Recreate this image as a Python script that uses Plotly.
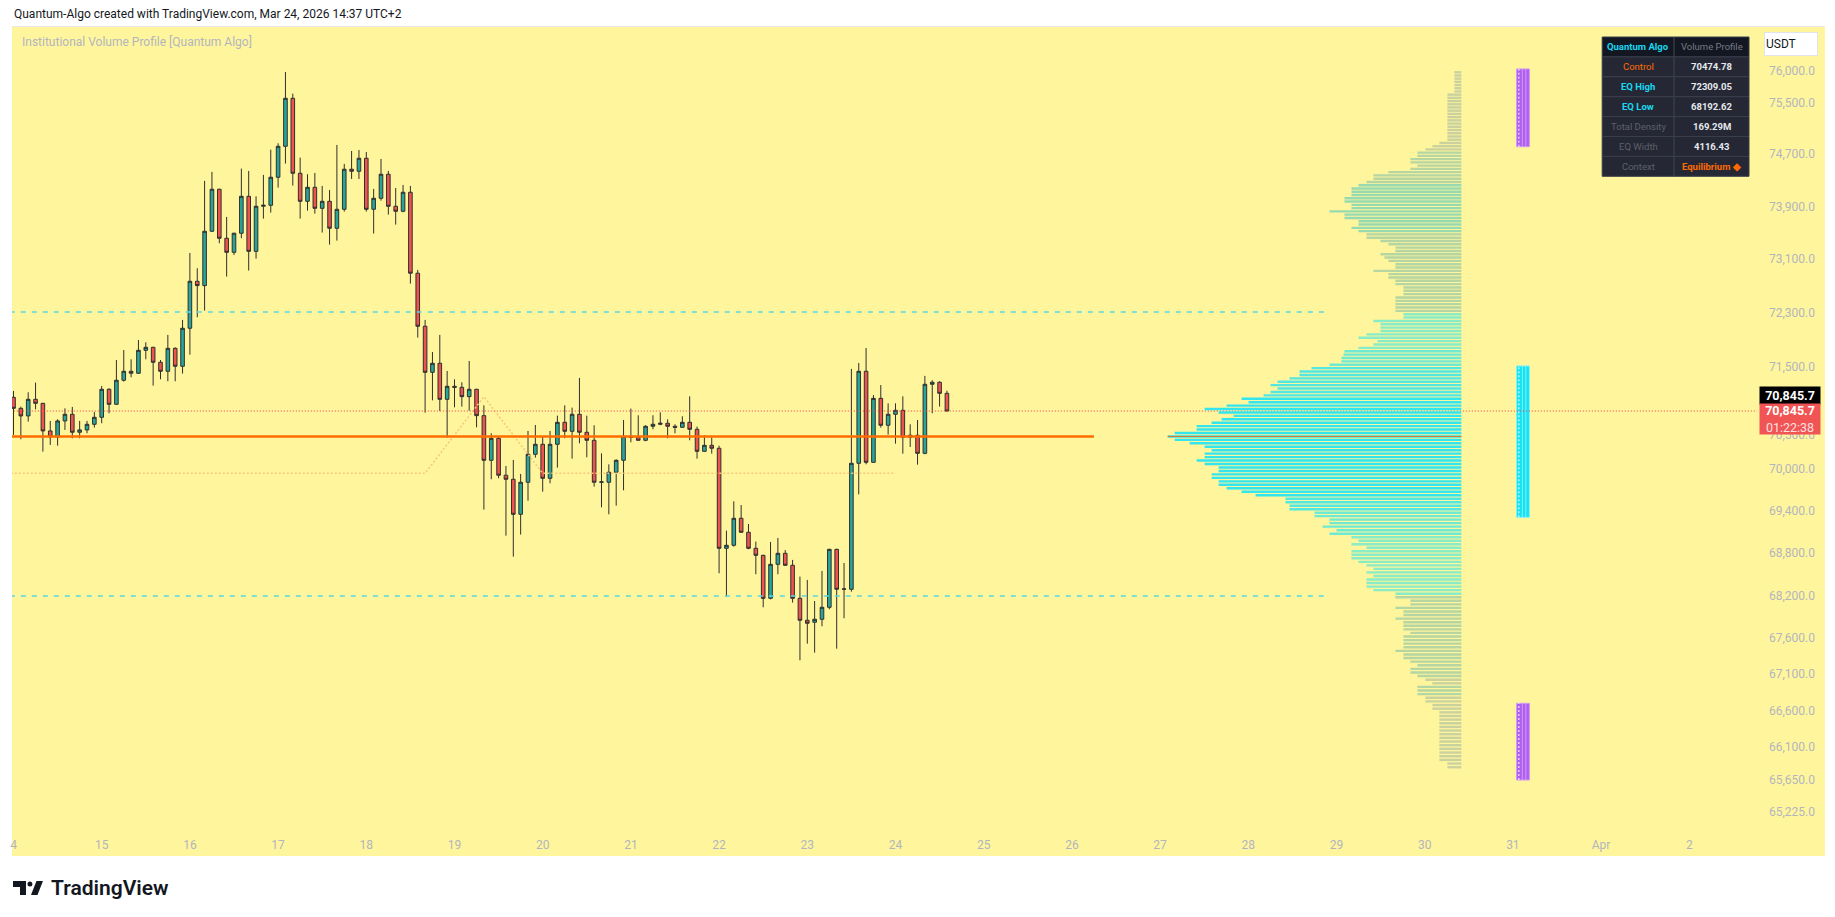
import math
import pandas as pd
import plotly.graph_objects as go

# ---------------- data ----------------
START = "2026-03-14 00:00"          # first 2h candle
OPEN = [71046, 70885, 70774, 71017, 70958, 70555, 70468, 70701, 70798, 70536,
        70570, 70652, 70754, 71164, 70944, 71297, 71429, 71400, 71739, 71783,
        71562, 71429, 71768, 71503, 72066, 72768, 72703, 73523, 74163, 73417,
        73204, 73493, 74055, 73219, 73903, 73918, 74347, 74823, 75568, 74408,
        73979, 74193, 73872, 73979, 73569, 73857, 74470, 74439, 74639, 73857,
        74025, 74393, 73903, 73827, 74117, 72889, 72096, 71414, 71547, 71017,
        71208, 71193, 71056, 71164, 70778, 70129, 70448, 69913, 69855, 69352,
        69812, 70216, 70361, 69869, 70361, 70681, 70550, 70798, 70536, 70419,
        69812, 69812, 69956, 70129, 70477, 70463, 70419, 70623, 70652, 70667,
        70623, 70608, 70681, 70579, 70259, 70346, 70303, 68867, 68910, 69295,
        69095, 68867, 68767, 68160, 68640, 68796, 68626, 68160, 67852, 67824,
        67866, 68034, 68852, 68287, 68287, 70086, 71429, 70100, 71031, 70638,
        70798, 70856, 70463, 70492, 70230, 71238, 71267, 71105]
HIGH = [71140, 70910, 71120, 71262, 70965, 70701, 70725, 70885, 70905, 70701,
        70701, 70832, 71213, 71179, 71596, 71743, 71606, 71892, 71858, 71790,
        71596, 71967, 71783, 72190, 73194, 72964, 74291, 74429, 74170, 73741,
        73500, 74480, 74444, 74055, 74383, 74771, 74870, 75980, 75641, 74649,
        74393, 74413, 74214, 74152, 74844, 74552, 74751, 74766, 74736, 74168,
        74628, 74444, 74183, 74229, 74214, 72939, 72190, 71714, 71967, 71434,
        71311, 71267, 71581, 71170, 70929, 70521, 70473, 70047, 70134, 69932,
        70555, 70642, 70473, 70555, 70778, 70929, 70895, 71331, 70778, 70638,
        70230, 70071, 70143, 70715, 70881, 70783, 70638, 70783, 70827, 70725,
        70652, 70769, 71061, 70618, 70492, 70463, 70341, 69119, 69538, 69485,
        69214, 68962, 68775, 68957, 69014, 68843, 68702, 68466, 68419, 68122,
        68546, 68860, 68860, 68659, 71464, 71552, 71773, 71080, 71226, 70958,
        70958, 71061, 70652, 70715, 71361, 71296, 71282, 71144]
LOW = [70497, 70434, 70691, 70871, 70254, 70351, 70341, 70570, 70448, 70448,
       70521, 70604, 70667, 70812, 70940, 71277, 71341, 71390, 71606, 71218,
       71311, 71282, 71282, 71395, 71675, 72230, 72329, 73515, 73341, 72839,
       73164, 73417, 72929, 73109, 73715, 73807, 74188, 74557, 74219, 73715,
       73837, 73791, 73503, 73321, 73381, 73822, 74321, 74321, 73822, 73488,
       73989, 73776, 73624, 73812, 72733, 71927, 70822, 71002, 70846, 70458,
       70900, 70910, 70851, 70608, 69419, 69855, 69869, 69047, 68749, 69062,
       69547, 70167, 69677, 69797, 70023, 70448, 70153, 70375, 70172, 69749,
       69452, 69352, 69476, 69696, 70390, 70412, 70405, 70579, 70638, 70448,
       70521, 70604, 70419, 70153, 70250, 70225, 68513, 68184, 68891, 69090,
       68853, 68499, 68034, 68146, 68499, 68620, 68099, 67294, 67525, 67400,
       67768, 68006, 67455, 67880, 68254, 69638, 70071, 70095, 70604, 70502,
       70370, 70225, 70322, 70066, 70216, 70813, 70910, 70840]
CLOSE = [70885, 70774, 71017, 70958, 70555, 70468, 70701, 70798, 70536, 70570,
         70652, 70754, 71164, 70944, 71297, 71429, 71400, 71739, 71783, 71562,
         71429, 71768, 71503, 72066, 72768, 72703, 73523, 74163, 73417, 73204,
         73493, 74055, 73219, 73903, 73918, 74347, 74823, 75568, 74408, 73979,
         74193, 73872, 73979, 73569, 73857, 74470, 74439, 74639, 73857, 74025,
         74393, 73903, 73827, 74117, 72889, 72096, 71414, 71547, 71017, 71208,
         71193, 71056, 71164, 70778, 70129, 70448, 69913, 69855, 69352, 69812,
         70216, 70361, 69869, 70361, 70681, 70550, 70798, 70536, 70419, 69812,
         69817, 69956, 70129, 70477, 70463, 70419, 70623, 70652, 70667, 70623,
         70608, 70681, 70579, 70259, 70346, 70303, 68867, 68910, 69295, 69095,
         68867, 68767, 68160, 68640, 68796, 68626, 68160, 67852, 67810, 67866,
         68034, 68852, 68287, 68292, 70086, 71429, 70100, 71031, 70638, 70798,
         70856, 70463, 70492, 70230, 71238, 71267, 71105, 70845.7]

CONTROL = 70474.78
EQ_HIGH = 72309.05
EQ_LOW = 68192.62
LAST = 70845.7

# volume profile rows (top -> bottom), relative volume per 50-USDT bin
PROFILE_TOP = 75975
PROFILE_STEP = 50
PROFILE_VOL = [7, 7, 7, 7, 7, 7, 7, 14, 14, 14,
               14, 14, 14, 14, 14, 14, 14, 14, 14, 14,
               14, 14, 22, 29, 36, 44, 44, 51, 51, 44,
               51, 73, 88, 88, 95, 103, 110, 110, 110, 117,
               117, 110, 110, 132, 117, 117, 103, 103, 110, 103,
               95, 95, 81, 73, 66, 66, 81, 77, 73, 66,
               66, 88, 73, 73, 66, 66, 58, 58, 58, 66,
               66, 66, 66, 66, 58, 58, 88, 81, 81, 81,
               95, 103, 84, 88, 103, 117, 118, 120, 120, 132,
               150, 162, 162, 172, 184, 191, 184, 191, 198, 220,
               213, 235, 257, 243, 228, 240, 250, 265, 265, 287,
               294, 287, 272, 257, 250, 257, 257, 265, 257, 243,
               243, 250, 250, 243, 243, 235, 220, 206, 176, 176,
               172, 172, 147, 147, 132, 132, 139, 125, 132, 110,
               103, 110, 95, 110, 110, 110, 103, 95, 88, 95,
               88, 95, 95, 95, 88, 66, 66, 51, 51, 66,
               58, 58, 66, 58, 58, 58, 51, 58, 58, 58,
               58, 66, 58, 58, 51, 44, 51, 51, 44, 36,
               29, 44, 44, 44, 36, 36, 29, 29, 22, 22,
               22, 22, 22, 22, 22, 22, 22, 22, 22, 22,
               22, 22, 14, 14]
PROFILE_PRICE = [PROFILE_TOP - i * PROFILE_STEP for i in range(len(PROFILE_VOL))]

# side zones (top, bottom) and their time span
ZONE_TOP = [76027, 71507, 66699]
ZONE_BOTTOM = [74817, 69309, 65652]
ZONE_KIND = ["premium", "equilibrium", "discount"]
ZONE_T0 = "2026-03-31 01:00"
ZONE_T1 = "2026-03-31 04:30"

# faint guide line
GUIDE_T = ["2026-03-13 20:00", "2026-03-18 16:00", "2026-03-19 08:00",
           "2026-03-20 00:00", "2026-03-24 00:00"]
GUIDE_P = [69941, 69941, 71055, 69941, 69941]

LEFT_T = "2026-03-13 20:00"
CONTROL_END = "2026-03-26 06:00"
EQ_END = "2026-03-28 20:45"
RIGHT_T = "2026-04-04 00:00"

Y_TICKS = [76000, 75500, 74700, 73900, 73100, 72300, 71500, 70500, 70000,
           69400, 68800, 68200, 67600, 67100, 66600, 66100, 65650, 65225]
X_TICKS = ["2026-03-%02d" % d for d in range(14, 32)] + ["2026-04-01", "2026-04-02"]
X_TEXT = ["4"] + [str(d) for d in range(15, 32)] + ["Apr", "2"]

TABLE = [("Quantum Algo", "Volume Profile"), ("Control", "70474.78"),
         ("EQ High", "72309.05"), ("EQ Low", "68192.62"),
         ("Total Density", "169.29M"), ("EQ Width", "4116.43"),
         ("Context", "Equilibrium ◆")]

# ---------------- layout geometry (pixels) ----------------
FIG_W, FIG_H = 1835, 917
L0, R0, T0, B0 = 10, 1757, 27, 828
PW, PH = R0 - L0, B0 - T0
Y_RANGE = [math.log10(65004.8), math.log10(76688.0)]
X_RANGE = ["2026-03-13 23:35:30", "2026-04-02 18:25:36"]
PROFILE_ANCHOR_PX = 1461


def PX(x):
    return (x - L0) / PW


def PY(y):
    return (B0 - y) / PH


BG = "#fff59d"
TXT = "#b2b5be"
FONT = "Roboto"

TIMES = pd.date_range(START, periods=len(OPEN), freq="2h")

fig = go.Figure()

# faint guide
fig.add_trace(go.Scatter(x=GUIDE_T, y=GUIDE_P, mode="lines",
                         line=dict(color="#f7c77a", width=1.5, dash="2px,2px"),
                         hoverinfo="skip", showlegend=False))

# candles
fig.add_trace(go.Candlestick(
    x=TIMES, open=OPEN, high=HIGH, low=LOW, close=CLOSE,
    increasing=dict(fillcolor="#26a69a", line=dict(color="#2f2f2f", width=1)),
    decreasing=dict(fillcolor="#ef5350", line=dict(color="#2f2f2f", width=1)),
    whiskerwidth=0, hoverinfo="skip", showlegend=False))

# EQ dashed lines
for lvl in (EQ_HIGH, EQ_LOW):
    fig.add_trace(go.Scatter(x=[LEFT_T, EQ_END], y=[lvl, lvl], mode="lines",
                             line=dict(color="#58d6e2", width=1.5, dash="5px,6px"),
                             hoverinfo="skip", showlegend=False))

# control line
fig.add_trace(go.Scatter(x=[LEFT_T, CONTROL_END], y=[CONTROL, CONTROL], mode="lines",
                         line=dict(color="#ff6d00", width=2.5),
                         hoverinfo="skip", showlegend=False))


# volume profile rows on overlay axis x2 (grow leftwards from anchor)
def row_color(p, v):
    if EQ_LOW <= p <= EQ_HIGH:
        if v >= 200:
            return "#33e5ec"
        if v >= 150:
            return "#52e7e0"
        if v >= 115:
            return "#6eead2"
        return "#88ecc6"
    if v >= 100:
        return "#98dab0"
    if v >= 40:
        return "#b5d5a2"
    return "#c9d29f"


groups = {}
for p, v in zip(PROFILE_PRICE, PROFILE_VOL):
    c = row_color(p, v)
    gx, gy = groups.setdefault(c, ([], []))
    gx += [0, v, None]
    gy += [p, p, None]
for c, (gx, gy) in groups.items():
    fig.add_trace(go.Scatter(x=gx, y=gy, xaxis="x2", yaxis="y", mode="lines",
                             line=dict(color=c, width=2.4),
                             hoverinfo="skip", showlegend=False))
# POC outline in profile
fig.add_trace(go.Scatter(x=[0, max(PROFILE_VOL)], y=[CONTROL, CONTROL], xaxis="x2",
                         mode="lines", line=dict(color="#e0782a", width=1),
                         hoverinfo="skip", showlegend=False))

# side zones
t0 = pd.Timestamp(ZONE_T0)
t1 = pd.Timestamp(ZONE_T1)
for top, bot, kind in zip(ZONE_TOP, ZONE_BOTTOM, ZONE_KIND):
    fill = "#15e3f2" if kind == "equilibrium" else "#b15ff0"
    stripe = "#7ff0fa" if kind == "equilibrium" else "#cf9af7"
    fig.add_trace(go.Scatter(x=[t0, t1, t1, t0, t0], y=[bot, bot, top, top, bot],
                             mode="lines", fill="toself", fillcolor=fill,
                             line=dict(color=stripe, width=1),
                             hoverinfo="skip", showlegend=False))
    span = t1 - t0
    for frac, col, dsh in ((0.18, "#ffffff", "2px,2px"), (0.45, stripe, "solid"),
                           (0.72, stripe, "solid")):
        tx = t0 + span * frac
        fig.add_trace(go.Scatter(x=[tx, tx], y=[bot, top], mode="lines",
                                 line=dict(color=col, width=1, dash=dsh),
                                 hoverinfo="skip", showlegend=False))

# last price line
fig.add_trace(go.Scatter(x=[LEFT_T, RIGHT_T], y=[LAST, LAST], mode="lines",
                         line=dict(color="#f23645", width=1, dash="1px,2px"),
                         hoverinfo="skip", showlegend=False))

# ---------------- decorations ----------------
shapes = [
    dict(type="rect", xref="paper", yref="paper", x0=PX(10), x1=PX(1825),
         y0=PY(856), y1=PY(27), fillcolor=BG, line=dict(width=0), layer="below"),
    dict(type="line", xref="paper", yref="paper", x0=PX(10), x1=PX(1825),
         y0=PY(26.5), y1=PY(26.5), line=dict(color="#e8e8e8", width=1)),
]
annotations = []

# table
tx0, txm, tx1 = 1602, 1674, 1749
ty0, rh = 37, 19.9
name_colors = ["#18d8f2", "#ff6a00", "#18d8f2", "#18d8f2", "#5d606b", "#5d606b", "#5d606b"]
val_colors = ["#787b86", "#e6e8ee", "#e6e8ee", "#e6e8ee", "#e6e8ee", "#e6e8ee", "#ff6a00"]
name_bold = [True, False, True, True, False, False, False]
val_bold = [False, True, True, True, True, True, True]
for r, (name, val) in enumerate(TABLE):
    ya, yb = ty0 + r * rh, ty0 + (r + 1) * rh
    bg = "#131722" if r == 0 else "#252834"
    for xa, xb in ((tx0, txm), (txm, tx1)):
        shapes.append(dict(type="rect", xref="paper", yref="paper", x0=PX(xa), x1=PX(xb),
                           y0=PY(yb), y1=PY(ya), fillcolor=bg,
                           line=dict(color="#3a3e4a", width=1), layer="above"))
    for xc, text, col, bold in ((0.5 * (tx0 + txm), name, name_colors[r], name_bold[r]),
                                (0.5 * (txm + tx1), val, val_colors[r], val_bold[r])):
        annotations.append(dict(xref="paper", yref="paper", x=PX(xc), y=PY(0.5 * (ya + yb)),
                                text=text, showarrow=False, xanchor="center", yanchor="middle",
                                font=dict(family=FONT, size=9.5, color=col,
                                          weight=700 if bold else 400)))

# header + titles
annotations.append(dict(xref="paper", yref="paper", x=PX(10), y=PY(14), xanchor="left",
                        yanchor="middle", showarrow=False,
                        text="Quantum-Algo created with TradingView.com, Mar 24, 2026 14:37 UTC+2",
                        font=dict(family=FONT, size=12, color="#131722")))
annotations.append(dict(xref="paper", yref="paper", x=PX(18), y=PY(42), xanchor="left",
                        yanchor="middle", showarrow=False,
                        text="Institutional Volume Profile [Quantum Algo]",
                        font=dict(family=FONT, size=12, color=TXT)))
# currency box
annotations.append(dict(xref="paper", yref="paper", x=PX(1791.5), y=PY(44), xanchor="center",
                        yanchor="middle", showarrow=False, text="USDT", align="left",
                        width=50, height=20, bgcolor="#ffffff", bordercolor="#e0e3eb",
                        borderwidth=1, borderpad=1,
                        font=dict(family=FONT, size=12, color="#131722")))
# price labels
annotations.append(dict(xref="paper", yref="paper", x=PX(1790), y=PY(395.8), xanchor="center",
                        yanchor="middle", showarrow=False, text="<b>70,845.7</b>",
                        width=60, height=17, bgcolor="#000000", borderpad=0,
                        font=dict(family=FONT, size=12.5, color="#ffffff")))
annotations.append(dict(xref="paper", yref="paper", x=PX(1790), y=PY(419.3), xanchor="center",
                        yanchor="middle", showarrow=False,
                        text="<b>70,845.7</b><br><span style='color:#ffe0e0'>01:22:38</span>",
                        width=60, height=30, bgcolor="#f05454", borderpad=0,
                        font=dict(family=FONT, size=12.5, color="#ffffff")))


# TradingView logo
def path(points):
    s = "M " + " L ".join("%f,%f" % (PX(a), PY(b)) for a, b in points) + " Z"
    return s


shapes.append(dict(type="path", xref="paper", yref="paper",
                   path=path([(11, 881), (24, 881), (24, 895), (18, 895), (18, 887), (11, 887)]),
                   fillcolor="#131722", line=dict(width=0)))
shapes.append(dict(type="circle", xref="paper", yref="paper", x0=PX(25.5), x1=PX(30.5),
                   y0=PY(886.5), y1=PY(881.5), fillcolor="#131722", line=dict(width=0)))
shapes.append(dict(type="path", xref="paper", yref="paper",
                   path=path([(29, 895), (34.5, 881), (41, 881), (35.5, 895)]),
                   fillcolor="#131722", line=dict(width=0)))
annotations.append(dict(xref="paper", yref="paper", x=PX(47), y=PY(888), xanchor="left",
                        yanchor="middle", showarrow=False, text="TradingView",
                        font=dict(family=FONT, size=21, color="#131722", weight=600)))

fig.update_layout(
    width=FIG_W, height=FIG_H, autosize=False,
    margin=dict(l=L0, r=FIG_W - R0, t=T0, b=FIG_H - B0, pad=0),
    paper_bgcolor="#ffffff", plot_bgcolor=BG,
    showlegend=False, hovermode=False,
    shapes=shapes, annotations=annotations,
    xaxis=dict(type="date", range=X_RANGE, rangeslider=dict(visible=False),
               showgrid=False, zeroline=False, showline=False,
               tickmode="array", tickvals=X_TICKS, ticktext=X_TEXT,
               ticks="", ticklabelstandoff=8,
               tickfont=dict(family=FONT, size=12, color=TXT)),
    xaxis2=dict(overlaying="x", range=[PROFILE_ANCHOR_PX - L0, PROFILE_ANCHOR_PX - R0],
                visible=False),
    yaxis=dict(type="log", range=Y_RANGE, side="right", showgrid=False,
               zeroline=False, showline=False, tickmode="array", tickvals=Y_TICKS,
               ticktext=["{:,.1f}".format(v) for v in Y_TICKS], ticks="",
               ticklabelstandoff=11,
               tickfont=dict(family=FONT, size=12, color=TXT)),
)

fig.write_html("out.html")
